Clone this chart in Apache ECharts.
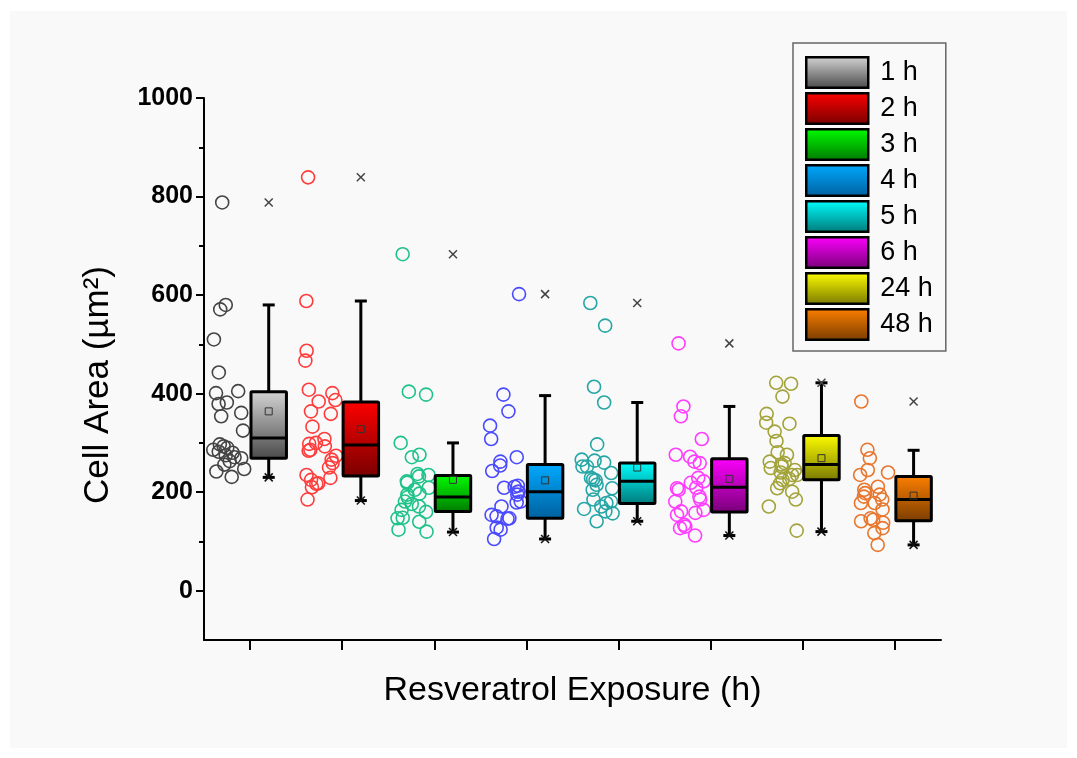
<!DOCTYPE html>
<html>
<head>
<meta charset="utf-8">
<title>Cell area vs resveratrol exposure</title>
<script src="https://cdn.jsdelivr.net/npm/echarts@6.0.0/dist/echarts.min.js"></script>
<style>
html, body { margin: 0; padding: 0; background: #fff; }
#main { width: 1077px; height: 758px; }
</style>
</head>
<body>
<div id="main"></div>
<script>
// exposure groups
var groups = ['1 h', '2 h', '3 h', '4 h', '5 h', '6 h', '24 h', '48 h'];

// single cell areas (µm²)
var pts1h = [788, 580, 571, 510, 443, 405, 401, 382, 379, 361, 354, 325, 297, 293, 290, 286, 282, 280, 275, 271, 269, 263, 256, 247, 242, 231];
var pts2h = [839, 588, 487, 467, 408, 401, 387, 384, 364, 359, 333, 308, 300, 298, 293, 286, 284, 274, 266, 259, 250, 235, 229, 225, 218, 217, 210, 185];
var pts3h = [683, 404, 398, 300, 276, 271, 237, 235, 232, 222, 219, 209, 205, 197, 195, 190, 181, 176, 171, 164, 160, 148, 147, 140, 124, 120];
var pts4h = [602, 398, 364, 335, 308, 271, 262, 254, 243, 213, 211, 209, 201, 201, 195, 181, 179, 171, 154, 151, 147, 146, 128, 124, 105];
var pts5h = [584, 538, 414, 382, 297, 266, 264, 260, 252, 252, 239, 229, 226, 224, 215, 208, 205, 185, 181, 178, 171, 166, 161, 157, 141];
var pts6h = [502, 374, 354, 308, 276, 272, 262, 259, 229, 222, 219, 209, 208, 205, 191, 185, 181, 164, 161, 158, 154, 134, 130, 127, 112];
var pts24h = [422, 420, 394, 359, 341, 339, 323, 304, 281, 276, 262, 259, 256, 252, 249, 245, 240, 235, 235, 227, 225, 218, 208, 201, 185, 171, 122];
var pts48h = [384, 286, 269, 245, 240, 235, 211, 205, 198, 195, 191, 185, 178, 178, 165, 147, 144, 141, 138, 127, 117, 93];
var allPts = [pts1h, pts2h, pts3h, pts4h, pts5h, pts6h, pts24h, pts48h];

// box statistics
var whiskerLow  = [230, 183, 119, 105, 141, 112, 120, 93];
var q1          = [269, 233, 161, 147, 177, 160, 225, 142];
var median      = [310, 296, 190, 201, 222, 210, 256, 185];
var q3          = [404, 383, 234, 256, 259, 268, 315, 232];
var whiskerHigh = [580, 588, 300, 396, 382, 374, 422, 285];
var means       = [364, 328, 225, 224, 250, 227, 269, 193];
var minVals     = [230, 183, 119, 105, 141, 112, 120, 93];
var maxVals     = [788, 839, 683, 602, 584, 502, 422, 384];

// axis ticks
var yTicks = [0, 200, 400, 600, 800, 1000];
var yMinorTicks = [100, 300, 500, 700, 900];
var xTicks = groups.map(function (g, i) { return i; });

// colours
var boxTop    = ['#d6d6d6', '#ff0000', '#00ff00', '#00aaff', '#00ffff', '#ff00ff', '#ffff00', '#ff8000'];
var boxBottom = ['#484848', '#780000', '#007800', '#00609e', '#007878', '#780078', '#787800', '#783c00'];
var dotColors = ['#444444', '#ff3c3c', '#1ec38a', '#4a4aff', '#27a6a6', '#ff3cff', '#a3a33a', '#e8762c'];

var font = 'Liberation Sans, Arial, sans-serif';

function grad(i) {
    return new echarts.graphic.LinearGradient(0, 0, 0, 1, [
        { offset: 0, color: boxTop[i] },
        { offset: 1, color: boxBottom[i] }
    ]);
}

// cheap repeatable jitter so the dots sit left of each box
function jitter(g, k) {
    var s = Math.sin((g + 1) * 91.7 + (k + 1) * 12.9898) * 43758.5453;
    return -0.40 + 0.34 * (s - Math.floor(s));
}

function makeRender(i) {
    return function (params, api) {
        var g = api.value(0);
        var bw = api.size([1, 0])[0];
        var cx = api.coord([g, 0])[0];
        var x0 = cx + bw * 0.01, x1 = cx + bw * 0.395, xm = (x0 + x1) / 2;
        function y(k) { return api.coord([g, api.value(k)])[1]; }
        var yLo = y(1), yQ1 = y(2), yMed = y(3), yQ3 = y(4), yHi = y(5), yMean = y(6), yMin = y(7), yMax = y(8);
        function line(a, b, c, d, w, col) {
            return { type: 'line', shape: { x1: a, y1: b, x2: c, y2: d }, style: { stroke: col || '#000', lineWidth: w } };
        }
        function cross(yy, col, w) {
            return [line(xm - 4, yy - 4, xm + 4, yy + 4, w, col), line(xm - 4, yy + 4, xm + 4, yy - 4, w, col)];
        }
        var kids = [
            line(xm, yQ3, xm, yHi, 3), line(xm, yQ1, xm, yLo, 3),
            line(xm - 6, yHi, xm + 6, yHi, 3), line(xm - 6, yLo, xm + 6, yLo, 3),
            { type: 'rect', shape: { x: x0, y: yQ3, width: x1 - x0, height: yQ1 - yQ3, r: 1 },
              style: { fill: grad(i), stroke: '#000', lineWidth: 3 } },
            line(x0, yMed, x1, yMed, 3),
            { type: 'rect', shape: { x: xm - 3.5, y: yMean - 3.5, width: 7, height: 7 },
              style: { fill: 'none', stroke: '#333', lineWidth: 1 } }
        ].concat(cross(yMin, '#111', 1.5), cross(yMax, '#444', 1.5));
        return { type: 'group', children: kids };
    };
}

var series = [];
groups.forEach(function (name, i) {
    series.push({
        name: name + ' cells',
        type: 'scatter',
        xAxisIndex: 1,
        yAxisIndex: 0,
        symbol: 'circle',
        symbolSize: 13,
        itemStyle: { color: 'rgba(0,0,0,0)', borderColor: dotColors[i], borderWidth: 1.6, opacity: 1 },
        data: allPts[i].map(function (v, k) { return [i + jitter(i, k), v]; }),
        z: 2
    });
});
groups.forEach(function (name, i) {
    series.push({
        name: name,
        type: 'custom',
        xAxisIndex: 0,
        yAxisIndex: 0,
        renderItem: makeRender(i),
        itemStyle: { color: grad(i), borderColor: '#000', borderWidth: 2.5 },
        encode: { x: 0, y: [1, 2, 3, 4, 5, 6, 7, 8] },
        data: [[i, whiskerLow[i], q1[i], median[i], q3[i], whiskerHigh[i], means[i], minVals[i], maxVals[i]]],
        z: 3
    });
});

var chart = echarts.init(document.getElementById('main'));
chart.setOption({
    backgroundColor: '#fff',
    animation: false,
    graphic: [{
        type: 'rect', z: -10, silent: true,
        shape: { x: 10, y: 11, width: 1057, height: 737 },
        style: { fill: '#f9f9f9' }
    }],
    grid: { left: 204, top: 98, right: 136, bottom: 118 },
    legend: {
        data: groups,
        orient: 'vertical',
        left: 793,
        top: 43,
        icon: 'rect',
        itemWidth: 62,
        itemHeight: 30.5,
        itemGap: 3,
        padding: [13, 13, 10, 12],
        borderColor: '#666',
        borderWidth: 1.5,
        itemStyle: { borderColor: '#000', borderWidth: 2.5 },
        textStyle: { fontSize: 27, color: '#000', fontFamily: font, padding: [0, 0, 0, 7] },
        selectedMode: false
    },
    xAxis: [{
        type: 'category',
        data: groups,
        boundaryGap: true,
        axisLine: { onZero: false, lineStyle: { color: '#000', width: 2 } },
        axisTick: { show: false },
        axisLabel: { show: false },
        splitLine: { show: false },
        name: 'Resveratrol Exposure (h)',
        nameLocation: 'middle',
        nameGap: 34,
        nameTextStyle: { fontSize: 34, color: '#000', fontFamily: font }
    }, {
        // same span as the categories, used for the jittered dots and the tick marks
        type: 'value',
        position: 'bottom',
        min: -0.5,
        max: 7.5,
        axisLine: { show: false, onZero: false },
        axisTick: { show: true, length: 10, customValues: xTicks, lineStyle: { color: '#000', width: 2 } },
        axisLabel: { show: false },
        splitLine: { show: false }
    }],
    yAxis: [{
        type: 'value',
        min: -100,
        max: 1000,
        interval: 100,
        axisLine: { show: true, onZero: false, lineStyle: { color: '#000', width: 2 } },
        axisTick: { show: true, length: 8, customValues: yTicks, lineStyle: { color: '#000', width: 2 } },
        axisLabel: {
            customValues: yTicks, margin: 11, fontSize: 25, fontWeight: 'bold', color: '#000', fontFamily: font,
            formatter: function (v) { return String(v); }
        },
        splitLine: { show: false },
        name: 'Cell Area (µm²)',
        nameLocation: 'middle',
        nameGap: 88,
        nameTextStyle: { fontSize: 35, color: '#000', fontFamily: font, padding: [0, 32, 0, 0] }
    }, {
        type: 'value',
        position: 'left',
        min: -100,
        max: 1000,
        interval: 100,
        axisLine: { show: false, onZero: false },
        axisTick: { show: true, length: 5, customValues: yMinorTicks, lineStyle: { color: '#000', width: 2 } },
        axisLabel: { show: false },
        splitLine: { show: false }
    }],
    series: series
});
</script>
</body>
</html>
